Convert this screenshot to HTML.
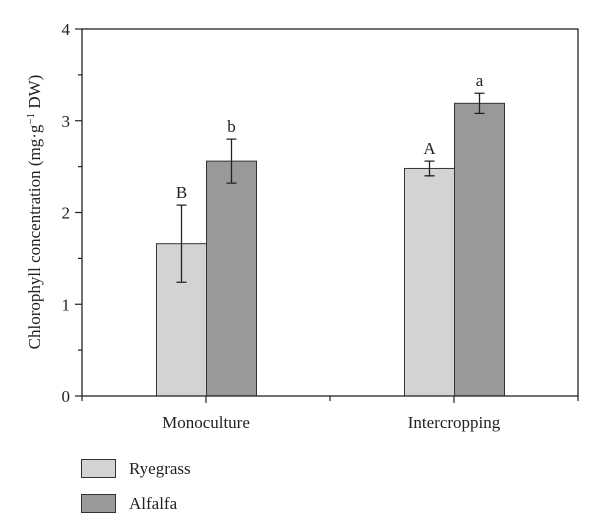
<!DOCTYPE html>
<html><head><meta charset="utf-8"><style>
html,body{margin:0;padding:0;background:#fff;}
svg{display:block;font-family:"Liberation Serif",serif;}
</style></head><body>
<svg id="chart" width="600" height="524" viewBox="0 0 600 524">
<g id="bars"></g>
<g id="axes"></g>
<text transform="translate(40,212) rotate(-90)" text-anchor="middle" font-size="17" fill="#222">Chlorophyll concentration (mg·g<tspan dy="-6" font-size="11">−1</tspan><tspan dy="6"> DW)</tspan></text>
<g>
<rect x="81.5" y="459.5" width="34" height="18" fill="#d3d3d3" stroke="#333"/>
<text x="129" y="474" font-size="17" fill="#222">Ryegrass</text>
<rect x="81.5" y="494.5" width="34" height="18" fill="#999" stroke="#333"/>
<text x="129" y="509" font-size="17" fill="#222">Alfalfa</text>
</g>
</svg>
<script>
const categories = ["Monoculture", "Intercropping"];
const series = ["Ryegrass", "Alfalfa"];
const ryegrassValues = [1.66, 2.48];
const alfalfaValues = [2.56, 3.19];
const ryegrassErrors = [0.42, 0.08];
const alfalfaErrors = [0.24, 0.11];
const ryegrassLetters = ["B", "A"];
const alfalfaLetters = ["b", "a"];
const yTicks = [0, 1, 2, 3, 4];

const NS = "http://www.w3.org/2000/svg";
const X0 = 82, X1 = 578, Y0 = 396, Y1 = 29, YMAX = 4;
const y = v => Y0 - (v / YMAX) * (Y0 - Y1);
const catCenter = i => X0 + (X1 - X0) * (i + 0.5) / categories.length;
const BW = 50;
function mk(tag, attrs, parent) {
  const e = document.createElementNS(NS, tag);
  for (const k in attrs) e.setAttribute(k, attrs[k]);
  parent.appendChild(e);
  return e;
}
const bars = document.getElementById("bars");
const axes = document.getElementById("axes");
const vals = [ryegrassValues, alfalfaValues];
const errs = [ryegrassErrors, alfalfaErrors];
const lets = [ryegrassLetters, alfalfaLetters];
const fills = ["#d3d3d3", "#999"];
categories.forEach((c, i) => {
  const cx = catCenter(i);
  for (let s = 0; s < 2; s++) {
    const v = vals[s][i], e = errs[s][i];
    const x = cx - BW + s * BW;
    const r = mk("rect", {x: x + 0.5, y: y(v), width: BW, height: Y0 - y(v), fill: fills[s], stroke: "#333", "stroke-width": 1}, bars);
    
    
    const bx = x + BW / 2 + 0.5;
    const eb = mk("path", {d: `M${bx},${y(v - e)}V${y(v + e)}M${bx - 5},${y(v + e)}H${bx + 5}M${bx - 5},${y(v - e)}H${bx + 5}`, stroke: "#222", "stroke-width": 1.3, fill: "none"}, bars);
    
    
    const t = mk("text", {x: bx, y: y(v + e) - 7, "text-anchor": "middle", "font-size": 17, fill: "#222"}, bars);
    t.textContent = lets[s][i];
    
    
  }
  const lbl = mk("text", {x: cx, y: 428, "text-anchor": "middle", "font-size": 17, fill: "#222"}, axes);
  lbl.textContent = c;
  
  
  const tk = mk("line", {x1: cx, x2: cx, y1: Y0, y2: Y0 + 7, stroke: "#222", "stroke-width": 1.2}, axes);
  
  
});
const frame = mk("rect", {x: X0, y: Y1, width: X1 - X0, height: Y0 - Y1, fill: "none", stroke: "#222", "stroke-width": 1.3}, axes);


[X0, (X0 + X1) / 2, X1].forEach(x => {
  const t = mk("line", {x1: x, x2: x, y1: Y0, y2: Y0 + 5, stroke: "#222", "stroke-width": 1.2}, axes);
  
  
});
yTicks.forEach(v => {
  const t = mk("line", {x1: X0 - 7, x2: X0, y1: y(v), y2: y(v), stroke: "#222", "stroke-width": 1.2}, axes);
  
  
  const l = mk("text", {x: X0 - 12, y: y(v) + 6, "text-anchor": "end", "font-size": 17, fill: "#222"}, axes);
  l.textContent = v;
  
  
  if (v < YMAX) {
    const m = mk("line", {x1: X0 - 4, x2: X0, y1: y(v + 0.5), y2: y(v + 0.5), stroke: "#222", "stroke-width": 1.2}, axes);
    
    
  }
});
</script>
</body></html>
